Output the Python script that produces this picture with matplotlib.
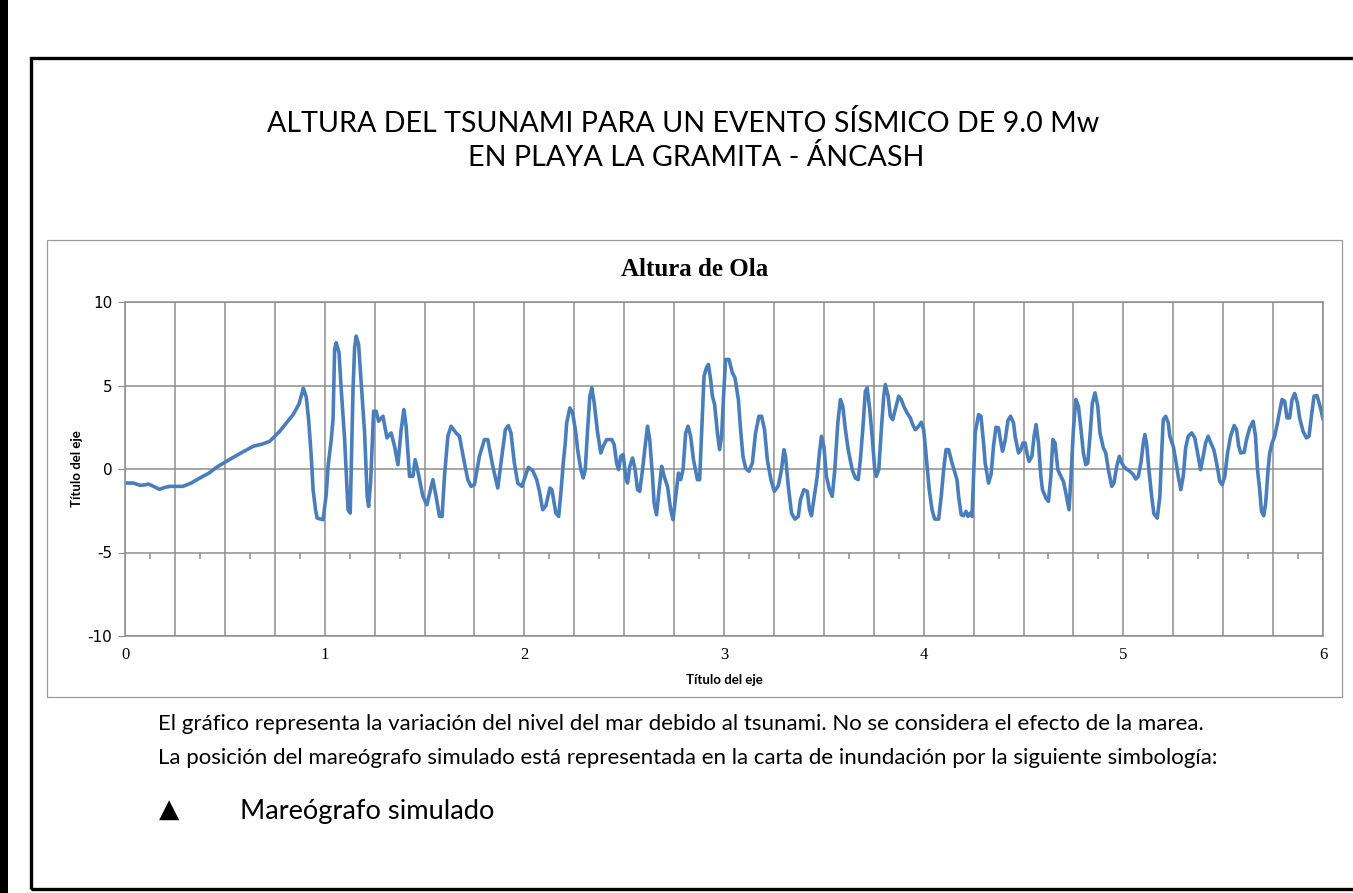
import matplotlib
matplotlib.use("Agg")
from matplotlib import pyplot as plt
from matplotlib.patches import Rectangle
from matplotlib.ticker import MultipleLocator, FuncFormatter

plt.rcParams["axes.unicode_minus"] = False

# wave height series (time, height)
tiempo = [0.0, 0.042, 0.075, 0.1, 0.117, 0.145, 0.172, 0.2, 0.225, 0.29, 0.33, 0.375, 0.42, 0.458, 0.508,
          0.575, 0.642, 0.69, 0.725, 0.775, 0.842, 0.872, 0.893, 0.908, 0.92, 0.932, 0.942, 0.955, 0.962,
          0.992, 1.008, 1.017, 1.033, 1.042, 1.05, 1.058, 1.072, 1.083, 1.1, 1.117, 1.128, 1.142, 1.15,
          1.158, 1.17, 1.183, 1.2, 1.213, 1.22, 1.23, 1.245, 1.258, 1.27, 1.292, 1.312, 1.333, 1.35, 1.367,
          1.383, 1.397, 1.408, 1.425, 1.442, 1.453, 1.467, 1.492, 1.512, 1.542, 1.558, 1.575, 1.588, 1.6,
          1.617, 1.633, 1.658, 1.675, 1.7, 1.717, 1.733, 1.75, 1.775, 1.8, 1.817, 1.842, 1.867, 1.883,
          1.905, 1.92, 1.933, 1.95, 1.967, 1.988, 2.02, 2.042, 2.062, 2.075, 2.092, 2.108, 2.128, 2.138,
          2.158, 2.172, 2.183, 2.195, 2.205, 2.212, 2.228, 2.242, 2.258, 2.267, 2.283, 2.295, 2.305, 2.317,
          2.328, 2.338, 2.35, 2.367, 2.383, 2.395, 2.412, 2.438, 2.45, 2.462, 2.472, 2.483, 2.495, 2.508,
          2.517, 2.528, 2.542, 2.555, 2.567, 2.578, 2.592, 2.605, 2.617, 2.628, 2.642, 2.65, 2.662, 2.675,
          2.688, 2.7, 2.717, 2.733, 2.745, 2.758, 2.772, 2.783, 2.795, 2.808, 2.82, 2.833, 2.847, 2.867,
          2.878, 2.888, 2.9, 2.912, 2.922, 2.933, 2.942, 2.953, 2.967, 2.978, 2.988, 2.997, 3.008, 3.025,
          3.042, 3.055, 3.072, 3.083, 3.095, 3.108, 3.125, 3.142, 3.158, 3.175, 3.188, 3.203, 3.217, 3.235,
          3.252, 3.272, 3.288, 3.3, 3.308, 3.322, 3.338, 3.355, 3.372, 3.383, 3.4, 3.417, 3.428, 3.438,
          3.45, 3.467, 3.478, 3.488, 3.5, 3.513, 3.528, 3.542, 3.555, 3.57, 3.583, 3.595, 3.608, 3.622,
          3.642, 3.658, 3.672, 3.683, 3.695, 3.708, 3.717, 3.73, 3.742, 3.755, 3.763, 3.775, 3.788, 3.8,
          3.808, 3.822, 3.833, 3.845, 3.858, 3.875, 3.888, 3.9, 3.917, 3.933, 3.945, 3.958, 3.975, 3.988,
          4.0, 4.008, 4.017, 4.028, 4.042, 4.055, 4.075, 4.088, 4.1, 4.112, 4.125, 4.142, 4.167, 4.175,
          4.188, 4.2, 4.212, 4.222, 4.233, 4.242, 4.25, 4.258, 4.275, 4.287, 4.3, 4.308, 4.325, 4.338,
          4.35, 4.362, 4.375, 4.385, 4.395, 4.408, 4.422, 4.435, 4.45, 4.458, 4.475, 4.487, 4.497, 4.508,
          4.517, 4.528, 4.542, 4.553, 4.563, 4.575, 4.587, 4.595, 4.612, 4.625, 4.637, 4.647, 4.658, 4.672,
          4.683, 4.7, 4.712, 4.728, 4.738, 4.75, 4.762, 4.775, 4.788, 4.8, 4.812, 4.822, 4.833, 4.845,
          4.858, 4.872, 4.883, 4.9, 4.912, 4.925, 4.942, 4.953, 4.967, 4.98, 4.992, 5.008, 5.033, 5.05,
          5.062, 5.075, 5.088, 5.1, 5.108, 5.117, 5.128, 5.142, 5.153, 5.17, 5.183, 5.192, 5.2, 5.212,
          5.225, 5.233, 5.25, 5.262, 5.275, 5.288, 5.3, 5.312, 5.325, 5.342, 5.358, 5.372, 5.387, 5.4,
          5.412, 5.425, 5.438, 5.453, 5.467, 5.483, 5.495, 5.508, 5.522, 5.537, 5.555, 5.567, 5.578, 5.588,
          5.605, 5.617, 5.633, 5.65, 5.662, 5.672, 5.683, 5.692, 5.703, 5.713, 5.725, 5.733, 5.745, 5.758,
          5.772, 5.783, 5.795, 5.808, 5.82, 5.833, 5.845, 5.858, 5.872, 5.883, 5.9, 5.917, 5.93, 5.942,
          5.955, 5.97, 5.983, 6.0]
altura = [-0.84, -0.84, -0.98, -0.95, -0.9, -1.05, -1.22, -1.1, -1.04, -1.04, -0.85, -0.54, -0.25, 0.1, 0.46,
          0.92, 1.36, 1.5, 1.66, 2.26, 3.26, 3.9, 4.84, 4.3, 2.9, 0.9, -1.24, -2.5, -2.94,
          -3.04, -1.5, 0.16, 1.76, 3.0, 7.2, 7.56, 6.96, 4.76, 1.76, -2.44, -2.64, 4.76, 7.26,
          7.96, 7.46, 5.16, 2.16, -1.64, -2.24, -0.84, 3.46, 3.46, 2.86, 3.16, 1.86, 2.16, 1.36, 0.26,
          2.36, 3.56, 2.56, -0.44, -0.44, 0.56, -0.14, -1.64, -2.14, -0.64, -1.64, -2.84, -2.84, -0.44,
          1.96, 2.56, 2.16, 1.96, 0.36, -0.64, -1.04, -0.94, 0.76, 1.76, 1.76, 0.16, -1.14, 0.36,
          2.36, 2.6, 2.16, 0.36, -0.84, -1.04, 0.1, -0.1, -0.64, -1.3, -2.44, -2.2, -1.14, -1.24,
          -2.64, -2.84, -1.44, 0.36, 1.56, 2.76, 3.66, 3.36, 2.16, 1.16, -0.04, -0.54, -0.04, 2.36,
          4.36, 4.86, 3.96, 2.16, 0.96, 1.36, 1.76, 1.76, 1.46, 0.36, -0.04, 0.76, 0.86, -0.54,
          -0.84, 0.16, 0.66, -0.04, -1.24, -1.34, -0.04, 1.36, 2.56, 1.76, -0.44, -2.04, -2.74, -1.24,
          0.16, -0.44, -1.04, -2.44, -3.04, -1.64, -0.24, -0.64, -0.04, 2.16, 2.56, 1.96, 0.56, -0.64,
          -0.64, 2.16, 5.56, 6.06, 6.26, 5.36, 4.36, 3.86, 2.16, 1.16, 1.96, 4.16, 6.56, 6.56,
          5.76, 5.46, 4.16, 2.36, 0.76, 0.06, -0.14, 0.36, 2.16, 3.16, 3.16, 2.36, 0.56, -0.64,
          -1.34, -1.0, -0.04, 1.16, 0.76, -1.04, -2.64, -3.0, -2.84, -1.84, -1.24, -1.34, -2.44, -2.8,
          -1.84, -0.44, 0.96, 1.96, 1.36, -0.44, -1.24, -1.64, -0.04, 2.76, 4.16, 3.76, 2.36, 1.16,
          -0.04, -0.54, -0.64, 0.56, 2.36, 4.66, 4.86, 3.56, 1.96, -0.04, -0.44, -0.04, 2.36, 4.36,
          5.06, 4.36, 3.16, 2.96, 3.56, 4.36, 4.16, 3.76, 3.36, 3.06, 2.66, 2.36, 2.56, 2.8,
          2.36, 1.36, 0.16, -1.24, -2.44, -3.0, -3.0, -1.64, -0.04, 1.16, 1.16, 0.36, -0.64, -1.64,
          -2.74, -2.8, -2.54, -2.84, -2.64, -2.84, -0.44, 2.16, 3.26, 3.16, 1.56, 0.36, -0.84, -0.3,
          1.4, 2.5, 2.46, 1.7, 1.06, 1.7, 2.9, 3.16, 2.76, 1.96, 0.96, 1.16, 1.56, 1.56,
          0.96, 0.46, 0.76, 1.96, 2.66, 1.56, -0.44, -1.24, -1.74, -1.94, -0.44, 1.76, 1.56, -0.04,
          -0.34, -0.74, -1.44, -2.44, -0.44, 2.36, 4.16, 3.76, 2.36, 0.96, 0.26, 0.36, 1.96, 3.96,
          4.56, 3.76, 2.16, 1.26, 0.96, -0.04, -1.04, -0.84, 0.16, 0.76, 0.36, 0.06, -0.14, -0.34,
          -0.6, -0.44, 0.36, 1.56, 2.06, 1.46, -0.04, -1.64, -2.68, -2.94, -1.64, 0.96, 2.96, 3.16,
          2.76, 1.96, 1.36, 0.56, -0.44, -1.24, -0.44, 1.26, 1.96, 2.16, 1.86, 0.96, -0.04, 0.76,
          1.56, 1.96, 1.56, 1.16, 0.36, -0.74, -0.94, -0.44, 0.96, 1.96, 2.6, 2.36, 1.36, 0.96,
          1.0, 1.76, 2.46, 2.86, 1.96, -0.04, -1.24, -2.54, -2.8, -2.04, -0.04, 0.96, 1.56, 1.96,
          2.76, 3.46, 4.16, 4.06, 3.06, 3.06, 4.16, 4.52, 3.96, 3.06, 2.26, 1.86, 1.96, 3.16,
          4.36, 4.4, 3.86, 3.0]

W, H = 1353, 893
fig = plt.figure(figsize=(W / 100, H / 100), dpi=100)
fig.patch.set_facecolor("white")

def fx(px):
    return px / W

def fy(py):
    return 1 - py / H

# page frame
fig.add_artist(Rectangle((0, 0), fx(8), 1, transform=fig.transFigure, color="black", lw=0))
fig.add_artist(Rectangle((fx(31), fy(889)), fx(1400), fy(58) - fy(889), transform=fig.transFigure,
                         fill=False, ec="black", lw=2.4))
# chart box
fig.add_artist(Rectangle((fx(47), fy(697)), fx(1342) - fx(47), fy(240) - fy(697), transform=fig.transFigure,
                         fill=False, ec="#9a9a9a", lw=0.9))

fig.text(fx(683), fy(123), "ALTURA DEL TSUNAMI PARA UN EVENTO SÍSMICO DE 9.0 Mw",
         ha="center", va="center", fontsize=20.6, family="Lato")
fig.text(fx(696), fy(158), "EN PLAYA LA GRAMITA - ÁNCASH",
         ha="center", va="center", fontsize=20.7, family="Lato")

ax = fig.add_axes([fx(125), fy(636), fx(1323) - fx(125), fy(302) - fy(636)])
ax.plot(tiempo, altura, color="#4a7ebb", lw=2.6, solid_joinstyle="round")
ax.set_xlim(0, 6)
ax.set_ylim(-10, 10)

grid_c = "#8e8e8e"
ax.xaxis.set_major_locator(MultipleLocator(0.25))
ax.xaxis.set_major_formatter(FuncFormatter(lambda v, p: "%d" % round(v) if abs(v - round(v)) < 1e-6 else ""))
ax.yaxis.set_major_locator(MultipleLocator(5))
ax.grid(True, color=grid_c, lw=1.1)
for s in ax.spines.values():
    s.set_color(grid_c)
    s.set_linewidth(1.1)
ax.tick_params(axis="x", length=0, pad=8, labelsize=12, labelfontfamily="Liberation Serif")
ax.tick_params(axis="y", length=5, color=grid_c, pad=4, labelsize=11)

# small tick marks along the -5 line
sec = ax.secondary_xaxis(0.25)
sec.set_xticks([0.125 + 0.25 * k for k in range(24)])
sec.tick_params(length=4, color=grid_c, width=1.1, labelbottom=False)
sec.set_xticklabels([])
sec.spines["bottom"].set_visible(False)

fig.text(fx(695), fy(270), "Altura de Ola", ha="center", va="center",
         family="Liberation Serif", weight="bold", fontsize=18)
ax.set_xlabel("Título del eje", family="Lato", weight="bold", fontsize=9.5)
ax.xaxis.set_label_coords(0.5, -0.115)
ax.set_ylabel("Título del eje", family="Lato", weight="bold", fontsize=9.5)
ax.yaxis.set_label_coords(-0.035, 0.5)

fig.text(fx(158), fy(724), "El gráfico representa la variación del nivel del mar debido al tsunami. "
         "No se considera el efecto de la marea.", ha="left", va="center", fontsize=16, family="Lato")
fig.text(fx(158), fy(758), "La posición del mareógrafo simulado está representada en la carta de "
         "inundación por la siguiente simbología:", ha="left", va="center", fontsize=16, family="Lato")
fig.text(fx(169), fy(810), "▲", ha="center", va="center", fontsize=19, family="DejaVu Sans")
fig.text(fx(240), fy(812), "Mareógrafo simulado", ha="left", va="center", fontsize=19.6, family="Lato")

fig.savefig("out.png", dpi=100)
